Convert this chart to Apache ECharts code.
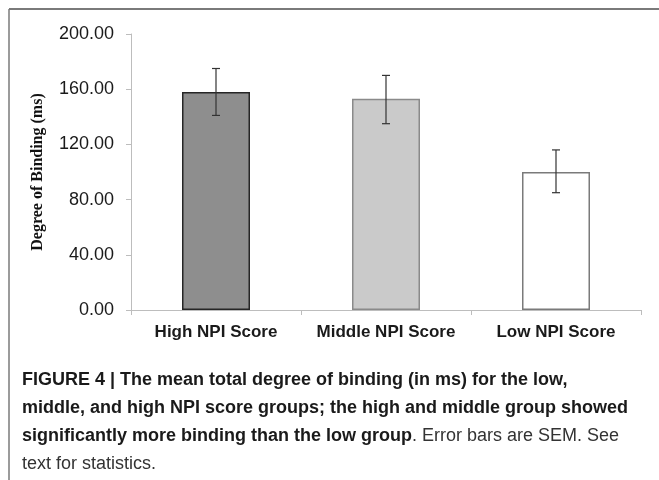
<!DOCTYPE html>
<html>
<head>
<meta charset="utf-8">
<script src="https://cdn.jsdelivr.net/npm/echarts@6/dist/echarts.min.js"></script>
<style>
  html, body { margin: 0; padding: 0; background: #fff; }
  #chart { width: 659px; height: 480px; }
</style>
</head>
<body>
<div id="chart"></div>
<script>
// 数据
const categories = ['High NPI Score', 'Middle NPI Score', 'Low NPI Score'];
const means = [158, 153, 100];
const errLow = [141, 135, 85];
const errHigh = [175, 170, 116];
const yTicks = [0, 40, 80, 120, 160, 200];

const barFills = ['#8e8e8e', '#cacaca', '#ffffff'];
const barBorders = ['#262626', '#8a8a8a', '#7a7a7a'];

const chart = echarts.init(document.getElementById('chart'));

const sansFont = '"Liberation Sans", Arial, sans-serif';

const option = {
  backgroundColor: '#fff',
  animation: false,
  grid: { left: 131, right: 18, top: 34, bottom: 170 },
  xAxis: {
    type: 'category',
    data: categories,
    axisLine: { lineStyle: { color: '#bdbdbd', width: 1 } },
    axisTick: { show: true, alignWithLabel: false, length: 5, lineStyle: { color: '#bdbdbd' } },
    axisLabel: {
      interval: 0,
      hideOverlap: false,
      color: '#1a1a1a',
      fontSize: 17,
      fontWeight: 'bold',
      fontFamily: sansFont,
      margin: 14
    }
  },
  yAxis: {
    type: 'value',
    min: yTicks[0],
    max: yTicks[yTicks.length - 1],
    interval: 40,
    name: 'Degree of Binding (ms)',
    nameLocation: 'middle',
    nameGap: 85,
    nameTextStyle: {
      color: '#111',
      fontSize: 16,
      fontWeight: 'bold',
      fontFamily: '"Liberation Serif", "Times New Roman", serif'
    },
    axisLine: { show: true, lineStyle: { color: '#bdbdbd' } },
    axisTick: { show: true, length: 5, lineStyle: { color: '#bdbdbd' } },
    splitLine: { show: false },
    axisLabel: {
      color: '#1a1a1a',
      fontSize: 18,
      fontFamily: sansFont,
      margin: 17,
      formatter: v => v.toFixed(2)
    }
  },
  series: [
    {
      type: 'bar',
      barWidth: '40%',
      data: means.map((v, i) => ({
        value: v,
        itemStyle: { color: barFills[i], borderColor: barBorders[i], borderWidth: 1.5 }
      }))
    },
    {
      type: 'custom',
      z: 5,
      data: categories.map((c, i) => [i, errLow[i], errHigh[i]]),
      renderItem: (params, api) => {
        const lo = api.coord([api.value(0), api.value(1)]);
        const hi = api.coord([api.value(0), api.value(2)]);
        const x = lo[0];
        const w = 4;
        const style = { stroke: '#333', lineWidth: 1.2 };
        return {
          type: 'group',
          children: [
            { type: 'line', shape: { x1: x, y1: lo[1], x2: x, y2: hi[1] }, style },
            { type: 'line', shape: { x1: x - w, y1: lo[1], x2: x + w, y2: lo[1] }, style },
            { type: 'line', shape: { x1: x - w, y1: hi[1], x2: x + w, y2: hi[1] }, style }
          ]
        };
      }
    }
  ],
  graphic: [
    // 外框
    { type: 'line', shape: { x1: 9, y1: 9, x2: 659, y2: 9 }, style: { stroke: '#7a7a7a', lineWidth: 2 } },
    { type: 'line', shape: { x1: 9, y1: 9, x2: 9, y2: 480 }, style: { stroke: '#7a7a7a', lineWidth: 1.5 } },
    {
      type: 'text',
      left: 22,
      top: 366,
      style: {
        text: '{b|FIGURE 4 | The mean total degree of binding (in ms) for the low,}\n' +
              '{b|middle, and high NPI score groups; the high and middle group showed}\n' +
              '{b|significantly more binding than the low group}{n|. Error bars are SEM. See}\n' +
              '{n|text for statistics.}',
        lineHeight: 28,
        rich: {
          b: { fontSize: 18, fontWeight: 'bold', fill: '#1a1a1a', fontFamily: sansFont, lineHeight: 28 },
          n: { fontSize: 18, fontWeight: 'normal', fill: '#333', fontFamily: sansFont, lineHeight: 28 }
        }
      }
    }
  ]
};

chart.setOption(option);
</script>
</body>
</html>
